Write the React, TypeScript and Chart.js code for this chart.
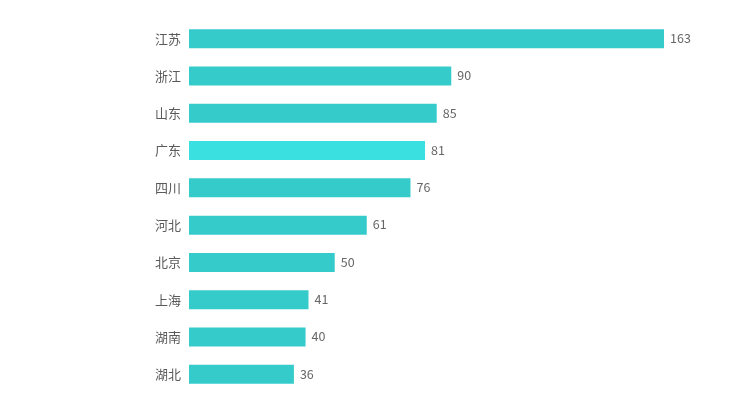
import React, { useEffect, useRef } from "react";
import { Chart, registerables } from "chart.js";

Chart.register(...registerables);

const provinces = ["江苏", "浙江", "山东", "广东", "四川", "河北", "北京", "上海", "湖南", "湖北"];
const values = [163, 90, 85, 81, 76, 61, 50, 41, 40, 36];
const highlightIndex = 3;

const FONT = '"Noto Sans CJK SC", "Noto Sans", sans-serif';

const valueLabelPlugin = {
  id: "valueLabels",
  afterDatasetsDraw(chart: any) {
    const ctx = chart.ctx;
    const meta = chart.getDatasetMeta(0);
    ctx.save();
    ctx.font = `12.5px ${FONT}`;
    ctx.fillStyle = "#666666";
    ctx.textAlign = "left";
    ctx.textBaseline = "middle";
    meta.data.forEach((bar: any, i: number) => {
      ctx.fillText(String(chart.data.datasets[0].data[i]), bar.x + 6, bar.y - 0.5);
    });
    ctx.restore();
  },
};

export default function App() {
  const ref = useRef<HTMLCanvasElement | null>(null);
  useEffect(() => {
    if (!ref.current) return;
    const chart = new Chart(ref.current, {
      type: "bar",
      data: {
        labels: provinces,
        datasets: [
          {
            data: values,
            backgroundColor: values.map((_, i) => (i === highlightIndex ? "#3ADFDF" : "#36CBCB")),
            borderWidth: 0,
            barPercentage: 1,
            categoryPercentage: 0.51,
          },
        ],
      },
      options: {
        indexAxis: "y",
        animation: false,
        responsive: false,
        maintainAspectRatio: false,
        layout: { padding: { top: 20, bottom: 5, right: 70, left: 0 } },
        plugins: { legend: { display: false }, tooltip: { enabled: false } },
        scales: {
          x: { display: false, min: 0, max: 163 },
          y: {
            grid: { display: false },
            border: { display: false },
            ticks: { color: "#5a5a5a", font: { family: FONT, size: 13 }, padding: 0 },
            afterFit(scale: any) {
              scale.width = 189;
              scale.paddingTop = 0;
              scale.paddingBottom = 0;
            },
          },
        },
      },
      plugins: [valueLabelPlugin],
    });
    return () => chart.destroy();
  }, []);
  return (
    <div style={{ position: "fixed", left: 0, top: 0, width: 734, height: 398, background: "#fff" }}>
      <canvas ref={ref} width={734} height={398} />
    </div>
  );
}
